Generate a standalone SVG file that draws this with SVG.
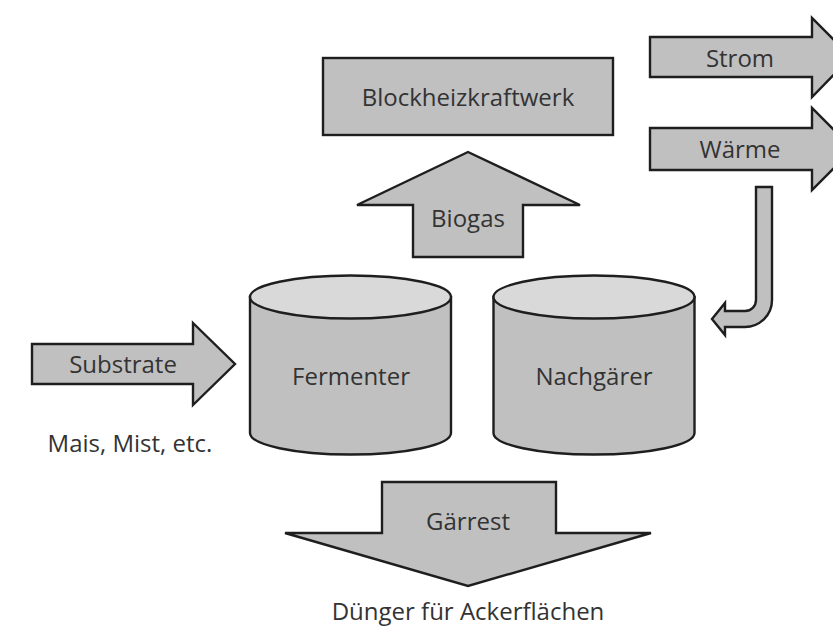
<svg xmlns="http://www.w3.org/2000/svg" width="833" height="628" viewBox="0 0 833 628">
  <style>
    .shape { fill: #c0c0c0; stroke: #1e1e1e; stroke-width: 2.4; stroke-linejoin: miter; }
    .lid { fill: #d9d9d9; stroke: #1e1e1e; stroke-width: 2.4; }
    .label { font-family: "Open Sans", "Noto Sans", "Liberation Sans", sans-serif; font-size: 24px; fill: #333333; text-anchor: middle; }
  </style>
  <rect width="833" height="628" fill="#ffffff"/>

  <!-- Combined heat and power unit -->
  <g id="bhkw">
    <rect class="shape" x="323" y="58" width="290" height="77"/>
    <text class="label" x="468" y="106">Blockheizkraftwerk</text>
  </g>

  <!-- Digester -->
  <g id="fermenter">
    <path class="shape" d="M250,297 L250,433 A100.5,21.5 0 0 0 451,433 L451,297 Z"/>
    <ellipse class="lid" cx="350.5" cy="297" rx="100.5" ry="21.5"/>
    <text class="label" x="351" y="385">Fermenter</text>
  </g>

  <!-- Secondary digester -->
  <g id="nachgaerer">
    <path class="shape" d="M493.5,297 L493.5,433 A100.5,21.5 0 0 0 694.5,433 L694.5,297 Z"/>
    <ellipse class="lid" cx="594" cy="297" rx="100.5" ry="21.5"/>
    <text class="label" x="594" y="385">Nachgärer</text>
  </g>

  <!-- Flow arrows -->
  <g id="connectors">
    <g id="substrate">
      <path class="shape" d="M32,344 L193,344 L193,323 L235,364 L193,405 L193,384 L32,384 Z"/>
      <text class="label" x="123" y="373">Substrate</text>
    </g>
    <g id="biogas">
      <path class="shape" d="M468,152 L580,205 L523,205 L523,257 L413,257 L413,205 L357,205 Z"/>
      <text class="label" x="468" y="227">Biogas</text>
    </g>
    <g id="strom">
      <path class="shape" d="M650,37 L812,37 L812,18 L851,57 L812,97 L812,77 L650,77 Z"/>
      <text class="label" x="740" y="67">Strom</text>
    </g>
    <g id="waerme">
      <path class="shape" d="M650,128 L812,128 L812,108 L853,149 L812,190 L812,170 L650,170 Z"/>
      <text class="label" x="740" y="158">Wärme</text>
    </g>
    <g id="waerme-return">
      <path class="shape" d="M756,187 L772,187 L772,300 A27,27 0 0 1 745,327 L725,327 L725,335 L712,319 L725,303 L725,311 L745,311 A11,11 0 0 0 756,300 Z"/>
    </g>
    <g id="gaerrest">
      <path class="shape" d="M382,482 L556,482 L556,533 L651,533 L468,586 L285,533 L382,533 Z"/>
      <text class="label" x="468" y="530">Gärrest</text>
    </g>
  </g>

  <text class="label" x="130" y="452">Mais, Mist, etc.</text>
  <text class="label" x="468" y="620">Dünger für Ackerflächen</text>
</svg>
